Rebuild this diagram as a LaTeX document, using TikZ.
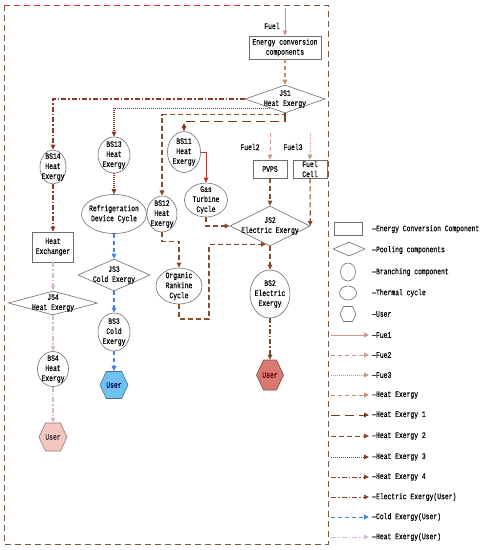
\documentclass[tikz,border=0pt]{standalone}
\usepackage{fontspec}
\usetikzlibrary{arrows.meta,shapes.geometric,shapes.symbols,calc}
\newfontfamily\simf{Liberation Mono}[FakeStretch=0.75,FakeBold=0.35]
\definecolor{tanc}{HTML}{C8978A}
\definecolor{heatc}{HTML}{C88A60}
\definecolor{brownA}{HTML}{7A3B1C}
\definecolor{brownB}{HTML}{8B4A28}
\definecolor{brownC}{HTML}{8A3A1E}
\definecolor{brownD}{HTML}{8B3A28}
\definecolor{elecc}{HTML}{7A4A2E}
\definecolor{coldc}{HTML}{3F86E8}
\definecolor{huc}{HTML}{D9B6D6}
\definecolor{framec}{HTML}{7B5B40}
\definecolor{framered}{HTML}{E0303C}
\definecolor{redline}{HTML}{C0342A}
\definecolor{userR}{HTML}{D97A72}
\definecolor{userB}{HTML}{6EC1F0}
\definecolor{userP}{HTML}{F5C6C0}
\definecolor{edgec}{HTML}{6E6E6E}
\tikzset{
  conn/.style={line width=1.1pt,-{Triangle[length=5pt,width=4.5pt]}},
  fuelA/.style={conn,tanc,line width=0.8pt},
  fuelB/.style={fuelA,dash pattern=on 4pt off 3pt},
  fuelC/.style={fuelA,dash pattern=on 1pt off 1pt},
  heatA/.style={conn,heatc,dash pattern=on 4pt off 3pt},
  heA/.style={conn,brownA,dash pattern=on 9pt off 5pt},
  heB/.style={conn,brownB,dash pattern=on 5pt off 3pt},
  heC/.style={conn,brownC,dash pattern=on 1pt off 1pt},
  heD/.style={conn,brownD,dash pattern=on 5pt off 2pt on 1.5pt off 2pt},
  elecA/.style={conn,elecc,dash pattern=on 5pt off 2pt on 1.5pt off 2pt},
  coldA/.style={conn,coldc,dash pattern=on 4pt off 3pt},
  huA/.style={conn,huc,dash pattern=on 5pt off 2pt on 1.5pt off 2pt},
  lbl/.style={font=\simf\fontsize{8.5}{10}\selectfont,align=center,inner sep=0pt},
  box/.style={draw=edgec,line width=0.6pt,rectangle,inner sep=0pt,fill=white},
  dia/.style={draw=edgec,line width=0.6pt,diamond,inner sep=0pt,fill=white},
  ell/.style={draw=edgec,line width=0.6pt,ellipse,inner sep=0pt,fill=white},
  hex/.style={draw=edgec,line width=0.6pt,signal,signal to=west and east,signal pointer angle=130,inner sep=0pt},
}
\begin{document}
\begin{tikzpicture}[x=1pt,y=-1pt]
\useasboundingbox (0,0) rectangle (486,550);
% frame
\draw[framec,line width=1pt,dash pattern=on 6pt off 4pt] (4,5) rectangle (328,544);
\draw[framered,line width=1pt,dash pattern=on 6pt off 4pt] (4,5) -- (248,5);

% nodes
\node[box,minimum width=72,minimum height=23,label={[lbl]center:{Energy conversion\\components}}] (ecc) at (285,47.5) {};
\node[dia,minimum width=80,minimum height=28,label={[lbl]center:{JS1\\Heat Exergy}}] (js1) at (285,99) {};
\node[ell,minimum width=26,minimum height=34,label={[lbl]center:{BS14\\Heat\\Exergy}}] (bs14) at (53,167) {};
\node[ell,minimum width=32,minimum height=36,label={[lbl]center:{BS13\\Heat\\Exergy}}] (bs13) at (114,155) {};
\node[ell,minimum width=33,minimum height=41,label={[lbl]center:{BS11\\Heat\\Exergy}}] (bs11) at (184,152) {};
\node[ell,minimum width=43,minimum height=34,label={[lbl]center:{Gas\\Turbine\\Cycle}}] (gtc) at (206,200) {};
\node[box,minimum width=34,minimum height=18,label={[lbl]center:{PVPS}}] (pvps) at (270,169) {};
\node[box,minimum width=34,minimum height=18,label={[lbl]center:{Fuel\\Cell}}] (fc) at (310,169) {};
\node[dia,minimum width=80,minimum height=40,label={[lbl]center:{JS2\\Electric Exergy}}] (js2) at (270,226) {};
\node[ell,minimum width=30,minimum height=36,label={[lbl]center:{BS12\\Heat\\Exergy}}] (bs12) at (162,214) {};
\node[ell,minimum width=46,minimum height=36,label={[lbl]center:{Organic\\Rankine\\Cycle}}] (orc) at (179,286) {};
\node[ell,minimum width=40,minimum height=48,label={[lbl]center:{BS2\\Electric\\Exergy}}] (bs2) at (270,294) {};
\node[hex,fill=userR,draw=userR!60!black,minimum width=27,minimum height=30,label={[lbl,text=red!40!black]center:{User}}] (ur) at (270,375) {};
\node[ell,minimum width=65,minimum height=39,label={[lbl]center:{Refrigeration\\Device Cycle}}] (ref) at (114,214) {};
\node[dia,minimum width=72,minimum height=32,label={[lbl]center:{JS3\\Cold Exergy}}] (js3) at (114,275) {};
\node[ell,minimum width=32,minimum height=38,label={[lbl]center:{BS3\\Cold\\Exergy}}] (bs3) at (114,332) {};
\node[hex,fill=userB,draw=userB!60!black,minimum width=28,minimum height=27,label={[lbl,text=blue!30!black]center:{User}}] (ub) at (114,385) {};
\node[box,minimum width=41,minimum height=30,label={[lbl]center:{Heat\\Exchanger}}] (hx) at (53,247) {};
\node[dia,minimum width=89,minimum height=24,label={[lbl]center:{JS4\\Heat Exergy}}] (js4) at (53,303) {};
\node[ell,minimum width=31,minimum height=35,label={[lbl]center:{BS4\\Heat\\Exergy}}] (bs4) at (53,369) {};
\node[hex,fill=userP,draw=userP!60!black,minimum width=28,minimum height=28,label={[lbl,text=black!80]center:{User}}] (up) at (53,437) {};

% fuel labels
\node[lbl] (tfuel) at (272,26) {Fuel};
\node[lbl] (tfuel2) at (250,147) {Fuel2};
\node[lbl] (tfuel3) at (293,147) {Fuel3};
\coordinate (f1) at (285,8);
\coordinate (f2) at (270,133);
\coordinate (f3) at (310,133);

% connectors
\draw[fuelA] (f1) -- (ecc.north);
\draw[heatA] (ecc.south) -- (js1.north);
\draw[heD] (js1.west) -| (bs14.north);
\coordinate (js1d) at ($(js1.west)!0.64!(js1.south)$);
\draw[heC] (js1d) -| (bs13.north);
\draw[heB] (js1.south) -- ++(0,1.5) -| (bs12.north);
\draw[heA] (js1.south) -- ++(0,8) -| (bs11.north);
\draw[conn,redline,line width=1pt] (bs11.east) -| (gtc.north);
\draw[heB] (gtc.south) |- (js2.west);
\draw[fuelB] (f2) -- (pvps.north);
\draw[fuelC] (f3) -- (fc.north);
\draw[heB] (pvps.south) -- (js2.north);
\draw[heB] (fc.south) -- (js2.east);
\draw[heB] (bs12.south) -- ++(0,9) -| (orc.north);
\coordinate (o1) at (209,319);
\coordinate (js2e) at ($(js2.west)!0.9!(js2.south)$);
\draw[heB] (orc.south) |- (o1) |- (js2e);
\draw[heB] (js2.south) -- (bs2.north);
\draw[elecA] (bs2.south) -- (ur.north);
\draw[heD] (bs14.south) -- (hx.north);
\draw[heC] (bs13.south) -- (ref.north);
\draw[coldA] (ref.south) -- (js3.north);
\draw[coldA] (js3.south) -- (bs3.north);
\draw[coldA] (bs3.south) -- (ub.north);
\draw[huA] (hx.south) -- (js4.north);
\draw[huA] (js4.south) -- (bs4.north);
\draw[huA] (bs4.south) -- (up.north);

% legend
\node[box,minimum width=28,minimum height=13] (lg1) at (348,228.5) {};
\node[dia,minimum width=32,minimum height=14] (lg2) at (349,249) {};
\node[ell,minimum width=15,minimum height=18] (lg3) at (348,272) {};
\node[ell,minimum width=17,minimum height=14] (lg4) at (348,293) {};
\node[hex,minimum width=16,minimum height=15] (lg5) at (348,314) {};
\node[lbl,anchor=west] (lt1) at (372,229) {—Energy Conversion Component};
\node[lbl,anchor=west] (lt2) at (372,250) {—Pooling components};
\node[lbl,anchor=west] (lt3) at (372,272) {—Branching component};
\node[lbl,anchor=west] (lt4) at (372,293) {—Thermal cycle};
\node[lbl,anchor=west] (lt5) at (372,314) {—User};
\foreach \y/\st/\tx [count=\i] in {335/fuelA/Fue1,355/fuelB/Fue2,375/fuelC/Fue3,395/heatA/Heat Exergy,415/heA/Heat Exergy 1,436/heB/Heat Exergy 2,457/heC/Heat Exergy 3,477/heD/Heat Exergy 4,497/elecA/Electric Exergy(User),517/coldA/Cold Exergy(User),537/huA/Heat Exergy(User)}{
  \coordinate (la\i) at (331,\y);
  \coordinate (lb\i) at (369,\y);
  \draw[\st,line width=0.9pt] (la\i) -- (lb\i);
  \node[lbl,anchor=west] (lx\i) at (372,\y) {—\tx};
}
\end{tikzpicture}
\end{document}
